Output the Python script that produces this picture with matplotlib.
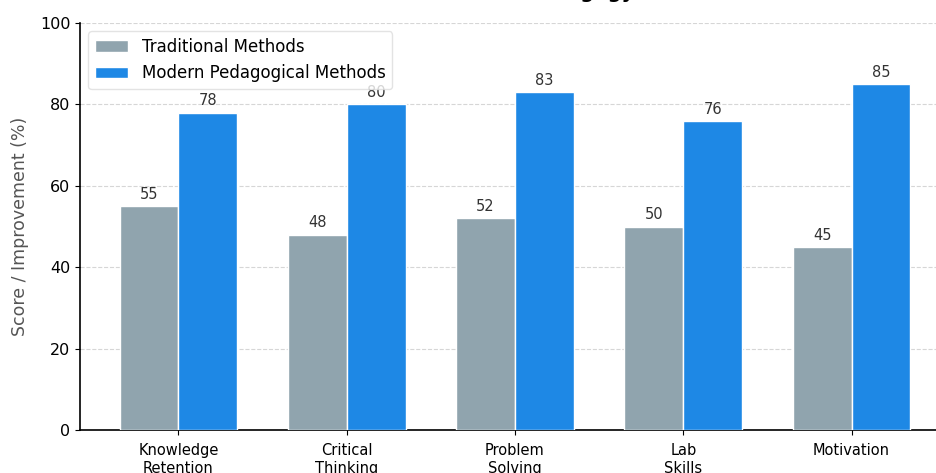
import numpy as np
import matplotlib.pyplot as plt

# Scores per learning area
categories = ["Knowledge\nRetention", "Critical\nThinking", "Problem\nSolving", "Lab\nSkills", "Motivation"]
traditional = [55, 48, 52, 50, 45]
modern = [78, 80, 83, 76, 85]

gray = "#90A4AE"
blue = "#1E88E5"

fig = plt.figure(figsize=(9.37, 4.73), dpi=100)
ax = fig.add_axes([80 / 937, 43 / 473, 870 / 937, 407 / 473])

x = np.arange(len(categories))
w = 0.35

b1 = ax.bar(x - w / 2, traditional, w, color=gray, edgecolor="white", linewidth=1, label="Traditional Methods", zorder=3)
b2 = ax.bar(x + w / 2, modern, w, color=blue, edgecolor="white", linewidth=1, label="Modern Pedagogical Methods", zorder=3)

# value labels above each bar
for bars in (b1, b2):
    ax.bar_label(bars, padding=3, fontsize=10.5, color="#333333")

ax.set_ylim(0, 100)
ax.set_yticks(range(0, 101, 20))
ax.set_xticks(x)
ax.set_xticklabels(categories, fontsize=10.5)
ax.tick_params(axis="x", pad=6)
ax.tick_params(axis="y", labelsize=11.5)
ax.set_ylabel("Score / Improvement (%)", fontsize=12.5, color="#555555", labelpad=8)

ax.grid(axis="y", linestyle="--", color="#cccccc", alpha=0.8, zorder=0)
ax.spines["top"].set_visible(False)
ax.spines["right"].set_visible(False)
ax.spines["left"].set_linewidth(1.2)
ax.spines["bottom"].set_linewidth(1.2)

ax.legend(loc="upper left", fontsize=12, frameon=True, edgecolor="#dddddd")

# title sits at the very top edge of the canvas
fig.text(0.57, 1 + 2 / 473, "Traditional vs Modern Pedagogy Effectiveness",
         ha="center", va="baseline", fontsize=14, fontweight="bold")

plt.savefig("out.png", dpi=100)
